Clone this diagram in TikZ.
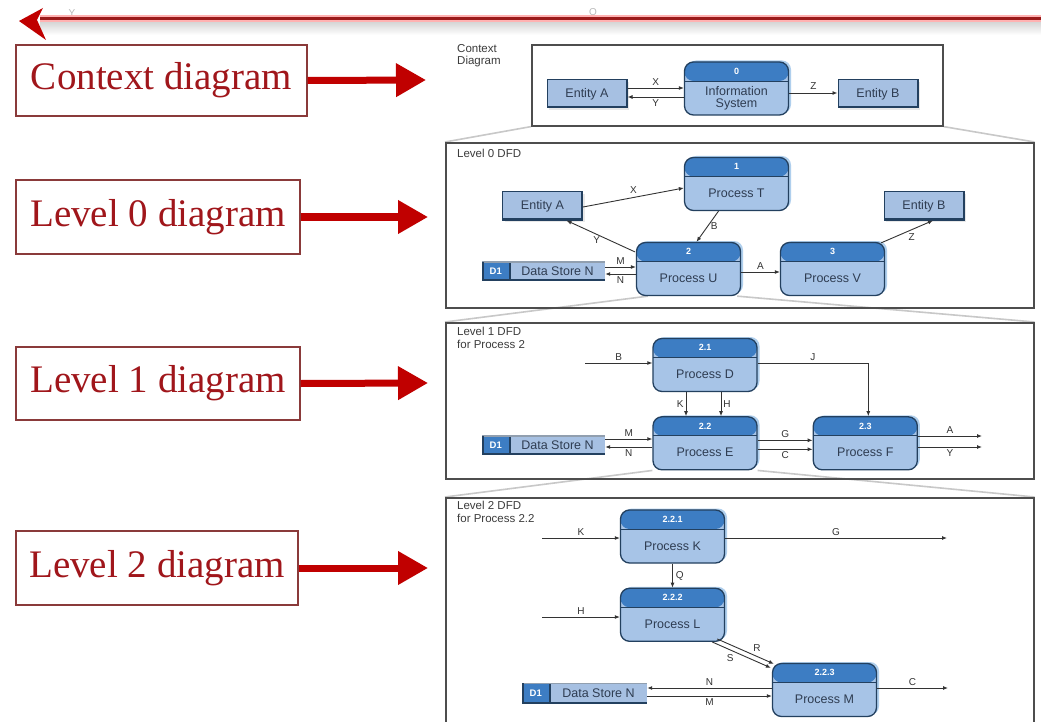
\documentclass[tikz,border=0pt]{standalone}
\usepackage{fontspec}
\setmainfont{Liberation Serif}
\setsansfont{Liberation Sans}
\usetikzlibrary{arrows.meta, positioning, calc, shadows}

\definecolor{navy}{HTML}{23405F}
\definecolor{procfill}{HTML}{A7C4E7}
\definecolor{headblue}{HTML}{3D7DC3}
\definecolor{entfill}{HTML}{A6C0E2}
\definecolor{dfdtext}{HTML}{2F3D52}
\definecolor{glow}{HTML}{6FA8E0}
\definecolor{flowgray}{HTML}{333333}
\definecolor{panelgray}{HTML}{4D4D4D}
\definecolor{titlegray}{HTML}{3C3C3C}
\definecolor{zoomgray}{HTML}{C8C8C8}
\definecolor{tagred}{HTML}{A0161B}
\definecolor{tagframe}{HTML}{8A3A3A}
\definecolor{arrowred}{HTML}{C00000}
\definecolor{barred}{HTML}{9B1B1B}

\pgfdeclarelayer{back}
\pgfsetlayers{back,main}

\begin{document}
\begin{tikzpicture}[x=1pt, y=-1pt,
    proc/.style={draw=navy, line width=1.3pt, rounded corners=9pt, fill=procfill,
      minimum width=104pt, inner sep=0pt, text height=40pt, text depth=13pt,
      font=\sffamily\fontsize{12.5}{13}\selectfont, text=dfdtext,
      drop shadow={shadow xshift=2.5pt, shadow yshift=1.5pt, fill=glow, opacity=0.55},
      path picture={
        \fill[headblue] (path picture bounding box.north west) rectangle ([yshift=-19pt]path picture bounding box.north east);
        \draw[navy, line width=0.8pt] ([yshift=-19pt]path picture bounding box.north west) -- ([yshift=-19pt]path picture bounding box.north east);
      }},
    num/.style={anchor=center, yshift=-10pt, inner sep=0pt, text=white,
      font=\sffamily\bfseries\fontsize{9}{9}\selectfont},
    entity/.style={draw=navy, line width=1pt, fill=entfill, minimum width=80pt, minimum height=28pt,
      font=\sffamily\fontsize{12.5}{13}\selectfont, text=dfdtext,
      drop shadow={shadow xshift=2pt, shadow yshift=-2pt, fill=gray!35, opacity=0.5},
      path picture={
        \draw[navy, line width=3pt] (path picture bounding box.north east) -- (path picture bounding box.south east) -- (path picture bounding box.south west);
      }},
    store/.style={fill=entfill, minimum width=123pt, minimum height=19pt, inner sep=0pt,
      font=\sffamily\fontsize{12.5}{13}\selectfont, text=dfdtext,
      path picture={
        \fill[headblue] (path picture bounding box.north west) rectangle ([xshift=28pt]path picture bounding box.south west);
        \draw[navy, line width=1.5pt] ([xshift=28pt]path picture bounding box.north west) -- ([xshift=28pt]path picture bounding box.south west);
        \draw[navy!50, line width=2pt] (path picture bounding box.north west) -- (path picture bounding box.north east);
        \draw[navy, line width=3pt] (path picture bounding box.north west) -- (path picture bounding box.south west) -- (path picture bounding box.south east);
      }},
    dlbl/.style={anchor=center, xshift=14pt, inner sep=0pt, text=white,
      font=\sffamily\bfseries\fontsize{9.5}{9.5}\selectfont},
    flow/.style={-{Latex[length=5pt, width=4pt]}, line width=0.9pt, draw=flowgray},
    lbl/.style={font=\sffamily\fontsize{10}{10}\selectfont, text=flowgray, inner sep=1pt},
    panel/.style={draw=panelgray, line width=1.6pt, anchor=north west, inner sep=0pt},
    ptitle/.style={anchor=north west, align=left, inner sep=0pt, text=titlegray,
      font=\sffamily\fontsize{11.5}{12.5}\selectfont},
    zoomline/.style={draw=zoomgray, line width=1.6pt},
    tag/.style={draw=tagframe, line width=1.4pt, fill=white, text=tagred, inner sep=0pt,
      font=\fontsize{39}{40}\selectfont},
    bigarrow/.style={-{Triangle[length=30pt, width=32pt]}, line width=7pt, draw=arrowred},
    ghost/.style={text=gray!55, font=\sffamily\fontsize{10}{10}\selectfont, inner sep=0pt}
]
\useasboundingbox (0,0) rectangle (1041,722);
\begin{pgfonlayer}{back}
  \fill[white] (0,0) rectangle (1041,722);
\end{pgfonlayer}

% slide banner
\node[ghost] (fragY) at (72,13) {Y};
\node[ghost] (fragQ) at (593,13) {Q};
\fill[top color=gray!30, bottom color=white] (40,23) rectangle (1041,35);
\draw[line width=7pt, red!30] (40,19) -- (1041,19);
\draw[line width=3pt, barred] (40,19) -- (1041,19);
\fill[arrowred] (19,21) -- (43,8) -- (37,20) -- (46,40) -- cycle;

% left captions
\node[tag, minimum width=291pt, minimum height=71pt] (tagC) at (161.5,80.5) {Context diagram};
\node[tag, minimum width=284pt, minimum height=74pt] (tag0) at (158,217) {Level 0 diagram};
\node[tag, minimum width=284pt, minimum height=73pt] (tag1) at (158,383.5) {Level 1 diagram};
\node[tag, minimum width=282pt, minimum height=74pt] (tag2) at (157,568) {Level 2 diagram};

\coordinate (tipC) at (426,80);
\coordinate (tip0) at (428,217);
\coordinate (tip1) at (428,383);
\coordinate (tip2) at (428,568);
\draw[bigarrow] (tagC.east) -- (tipC);
\draw[bigarrow] (tag0.east) -- (tip0);
\draw[bigarrow] (tag1.east) -- (tip1);
\draw[bigarrow] (tag2.east) -- (tip2);

% panels
\node[panel, minimum width=411pt, minimum height=81pt] (ctx) at (531,44) {};
\node[panel, minimum width=588pt, minimum height=165pt] (lv0) at (445,142) {};
\node[panel, minimum width=588pt, minimum height=156pt] (lv1) at (445,322) {};
\node[panel, minimum width=588pt, minimum height=228pt] (lv2) at (445,497) {};

\node[ptitle] (ctxT) at (457,44) {Context\\Diagram};
\node[ptitle] (lv0T) at (457,149) {Level 0 DFD};
\node[ptitle] (lv1T) at (457,327) {Level 1 DFD\\for Process 2};
\node[ptitle] (lv2T) at (457,501) {Level 2 DFD\\for Process 2.2};

% context diagram
\node[proc, align=center, text height=46pt, text depth=7pt, font=\sffamily\fontsize{12.5}{12.5}\selectfont,
      label={[name=p0n, num]north:0}] (p0) at (736.5,88.5) {Information\\System};
\node[entity] (eA0) at (587,94) {Entity A};
\node[entity] (eB0) at (878,94) {Entity B};

\draw[flow] ([yshift=6pt]eA0.east) -- node[lbl, above=1pt] {X} ([yshift=6pt]eA0.east -| p0.west);
\draw[flow] ([yshift=-3pt]eA0.east -| p0.west) -- node[lbl, below=1pt] {Y} ([yshift=-3pt]eA0.east);
\draw[flow] ([yshift=1pt]eB0.west -| p0.east) -- node[lbl, above=2pt] {Z} ([yshift=1pt]eB0.west);

% level 0
\node[entity] (eA1) at (542.5,206) {Entity A};
\node[entity] (eB1) at (924,206) {Entity B};
\node[proc, label={[name=pTn, num]north:1}] (pT) at (736.5,184) {Process T};
\node[proc, label={[name=pUn, num]north:2}] (pU) at (688.5,269) {Process U};
\node[proc, label={[name=pVn, num]north:3}] (pV) at (832.5,269) {Process V};
\node[store, label={[name=st0d, dlbl]west:D1}] (st0) at (543.5,271) {\hspace*{28pt}Data Store N};

\draw[flow] ([yshift=-1pt]eA1.east) -- node[lbl, above=3pt] {X} ([yshift=-4pt]pT.west);
\draw[flow] ([xshift=-1pt, yshift=-10pt]pU.north west) -- node[lbl, below left=-1pt] {Y} ([xshift=24pt]eA1.south);
\draw[flow] ([xshift=-18pt]pT.south) -- node[lbl, right=2pt] {B} ([xshift=8pt]pU.north);
\draw[flow] ([yshift=4pt]st0.east) -- node[lbl, above=1pt] {M} ([yshift=4pt]st0.east -| pU.west);
\draw[flow] ([yshift=-3pt]st0.east -| pU.west) -- node[lbl, below=1pt] {N} ([yshift=-3pt]st0.east);
\draw[flow] ([yshift=-3pt]pU.east) -- node[lbl, above=1pt] {A} ([yshift=-3pt]pU.east -| pV.west);
\draw[flow] ([xshift=-4pt, yshift=-1pt]pV.north east) -- node[lbl, below right=0pt] {Z} ([xshift=9pt]eB1.south);

% level 1
\node[proc, label={[name=pDn, num]north:2.1}] (pD) at (705,365) {Process D};
\node[proc, below=24pt of pD, label={[name=pEn, num]north:2.2}] (pE) {Process E};
\node[proc, right=55pt of pE, label={[name=pFn, num]north:2.3}] (pF) {Process F};
\node[store, label={[name=st1d, dlbl]west:D1}] (st1) at (543.5,445) {\hspace*{28pt}Data Store N};
\coordinate (inB) at (585,363);
\coordinate (outA) at (982,436);
\coordinate (outY) at (982,447);

\draw[flow] (inB) -- node[lbl, above=1pt] {B} (inB -| pD.west);
\draw[flow] ([yshift=2pt]pD.east) -| node[lbl, above=1pt, pos=0.25] {J} ([xshift=3pt]pF.north);
\draw[flow] ([xshift=-19pt]pD.south) -- node[lbl, left=1pt] {K} ([xshift=-19pt]pE.north);
\draw[flow] ([xshift=16pt]pD.south) -- node[lbl, right=1pt] {H} ([xshift=16pt]pE.north);
\draw[flow] ([yshift=6pt]st1.east) -- node[lbl, above=1pt] {M} ([yshift=6pt]st1.east -| pE.west);
\draw[flow] ([yshift=-2pt]st1.east -| pE.west) -- node[lbl, below=1pt] {N} ([yshift=-2pt]st1.east);
\draw[flow] ([yshift=3pt]pE.east) -- node[lbl, above=1pt] {G} ([yshift=3pt]pE.east -| pF.west);
\draw[flow] ([yshift=-6pt]pE.east) -- node[lbl, below=1pt] {C} ([yshift=-6pt]pE.east -| pF.west);
\draw[flow] (outA -| pF.east) -- node[lbl, above=1pt] {A} (outA);
\draw[flow] (outY -| pF.east) -- node[lbl, below=1pt] {Y} (outY);

% level 2
\node[proc, label={[name=pKn, num]north:2.2.1}] (pK) at (672.5,536.5) {Process K};
\node[proc, below=24pt of pK, label={[name=pLn, num]north:2.2.2}] (pL) {Process L};
\node[proc, label={[name=pMn, num]north:2.2.3}] (pM) at (824.5,690) {Process M};
\node[store, minimum width=125pt, minimum height=20pt, label={[name=st2d, dlbl]west:D1}] (st2) at (584.5,693) {\hspace*{28pt}Data Store N};
\coordinate (inK) at (542,538);
\coordinate (inH) at (542,617);
\coordinate (outG) at (947,538);
\coordinate (outC) at (948,688);

\draw[flow] (inK) -- node[lbl, above=1pt] {K} (inK -| pK.west);
\draw[flow] (outG -| pK.east) -- node[lbl, above=1pt] {G} (outG);
\draw[flow] (pK.south) -- node[lbl, right=2pt] {Q} (pL.north);
\draw[flow] (inH) -- node[lbl, above=1pt] {H} (inH -| pL.west);
\draw[flow] ([xshift=-8pt, yshift=3pt]pL.south east) -- node[lbl, above right=1pt, pos=0.6] {R} ([xshift=2pt, yshift=-1pt]pM.north west);
\draw[flow] ([xshift=-13pt]pL.south east) -- node[lbl, below left=1pt, pos=0.4] {S} ([xshift=-1pt, yshift=-5pt]pM.north west);
\draw[flow] ([yshift=2pt]pM.west) -- node[lbl, above=1pt] {N} ([yshift=2pt]pM.west -| st2.east);
\draw[flow] ([yshift=-3pt]st2.east) -- node[lbl, below=1pt] {M} ([yshift=-3pt]st2.east -| pM.west);
\draw[flow] (outC -| pM.east) -- node[lbl, above=1pt] {C} (outC);

% zoom guide lines
\begin{pgfonlayer}{back}
  \draw[zoomline] (ctx.south west) -- (lv0.north west);
  \draw[zoomline] (ctx.south east) -- (lv0.north east);
  \draw[zoomline] ([xshift=12pt]pU.south west) -- (lv1.north west);
  \draw[zoomline] ([xshift=-4pt]pU.south east) -- (lv1.north east);
  \draw[zoomline] (pE.south west) -- (lv2.north west);
  \draw[zoomline] (pE.south east) -- (lv2.north east);
\end{pgfonlayer}
\end{tikzpicture}
\end{document}
